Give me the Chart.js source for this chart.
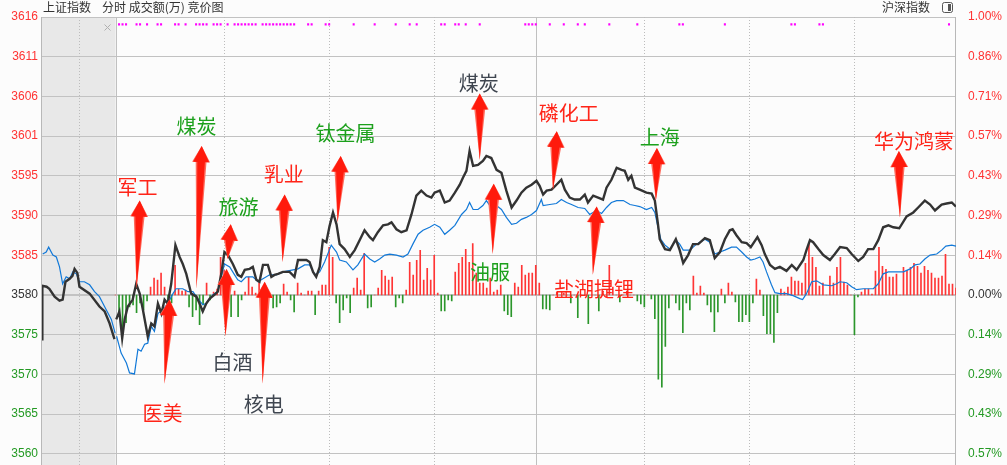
<!DOCTYPE html>
<html lang="zh-CN">
<head>
<meta charset="utf-8">
<title>上证指数 分时</title>
<script src="https://cdn.jsdelivr.net/npm/chart.js@4.4.1/dist/chart.umd.min.js"></script>
<style>
  html, body { margin: 0; padding: 0; background: #fcfcfc; overflow: hidden; }
  #box { width: 1007px; height: 465px; }
</style>
</head>
<body>
<div id="box"><canvas id="fs" width="1007" height="465"></canvas></div>
<script>
    // 昨收 & 纵轴刻度 (每格 1/7 %)
    const preClose = 3580.6;
    const gridSteps = [-4, -3, -2, -1, 0, 1, 2, 3, 4, 5, 6, 7];
    const priceLabels = ['3560', '3565', '3570', '3575', '3580', '3585', '3590', '3595', '3601', '3606', '3611', '3616'];
    const pctLabels = ['0.57%', '0.43%', '0.29%', '0.14%', '0.00%', '0.14%', '0.29%', '0.43%', '0.57%', '0.71%', '0.86%', '1.00%'];

    // 时间轴: 竞价 -21..0, 交易 0..240 分钟
    const timeLines = [-10.5, 0, 31, 61, 91, 120, 151, 181, 211];
    const solidTimeLines = [0, 120];

    // 竞价段 [分钟, 点位]
    const auctionIndex = [[-21, 3574.90], [-20.9, 3581.79], [-19.7, 3581.66], [-18.9, 3581.40], [-17.4, 3580.38], [-16, 3579.87],
        [-15.1, 3580.00], [-14.3, 3582.30], [-13.1, 3582.68], [-12.3, 3583.06], [-11.7, 3583.96], [-10.9, 3583.45], [-10.3, 3581.66],
        [-7.4, 3580.77], [-4.6, 3579.11], [-3.1, 3578.47], [-1.7, 3576.94], [-0.3, 3574.90]];
    const auctionBlue = [[-20.8, 3585.87], [-19.8, 3586.13], [-19.1, 3586.76], [-17.9, 3585.74], [-16.9, 3585.49], [-16, 3584.21],
        [-15.1, 3582.04], [-14.1, 3582.94], [-13.1, 3582.68], [-12.2, 3583.57], [-11.2, 3583.32], [-10.3, 3582.30], [-8.9, 3582.30],
        [-7.4, 3581.91], [-6, 3581.02], [-4.6, 3580.38], [-2.7, 3578.72], [-1.2, 3577.45], [-0.1, 3575.66]];

    // 上证指数 分时 [分钟, 点位]
    const indexLine = [
        [0.2, 3577.45], [1.1, 3578.47], [1.9, 3575.02], [2.6, 3577.45], [3.5, 3579.11], [4.9, 3580.00], [5.9, 3582.04], [6.9, 3580.77], [7.8, 3578.72], [9.2, 3575.28],
        [10.2, 3576.94], [11.1, 3576.56], [12.1, 3579.49], [13.1, 3578.21], [14.0, 3580.00], [14.9, 3579.49], [15.9, 3582.04], [17.1, 3587.02], [18.3, 3585.49], [19.2, 3584.59],
        [20.2, 3583.32], [21.6, 3580.77], [23.1, 3580.38], [24.0, 3579.49], [24.9, 3578.47], [25.9, 3579.49], [26.9, 3580.13], [28.3, 3580.64], [29.2, 3581.02], [30.2, 3583.32],
        [31.1, 3586.13], [32.1, 3585.74], [33.5, 3584.59], [34.9, 3583.19], [35.9, 3582.94], [36.9, 3583.83], [38.3, 3583.96], [39.2, 3584.21], [40.2, 3582.55], [41.1, 3582.30],
        [42.1, 3584.47], [43.5, 3584.47], [44.5, 3582.94], [45.4, 3583.19], [46.4, 3583.32], [47.8, 3583.57], [49.7, 3583.57], [51.1, 3582.94], [52.1, 3585.10], [54.5, 3585.10],
        [55.4, 3584.85], [56.4, 3583.57], [57.3, 3582.94], [58.3, 3584.21], [59.2, 3587.66], [60.2, 3587.40], [61.1, 3589.44], [62.1, 3591.23], [63.1, 3589.70], [64.0, 3587.15],
        [65.4, 3586.51], [66.9, 3585.49], [68.3, 3586.38], [69.7, 3587.66], [71.1, 3588.93], [72.6, 3588.04], [73.5, 3587.66], [74.9, 3588.68], [76.4, 3589.57], [77.8, 3589.70],
        [78.8, 3589.95], [80.2, 3589.06], [81.6, 3588.68], [83.1, 3588.93], [84.5, 3590.97], [85.9, 3593.40], [87.3, 3594.04], [88.8, 3593.40], [90.2, 3593.14], [91.1, 3593.78],
        [92.6, 3594.04], [94.0, 3592.51], [95.4, 3592.76], [96.9, 3593.78], [98.3, 3594.80], [99.2, 3595.70], [100.2, 3596.59], [101.1, 3599.14], [102.1, 3597.23], [103.5, 3597.36],
        [104.9, 3597.86], [105.9, 3598.50], [107.3, 3598.24], [108.8, 3596.72], [110.2, 3596.33], [111.6, 3594.04], [113.1, 3591.87], [114.5, 3592.76], [115.9, 3593.78], [117.3, 3594.42],
        [118.8, 3594.80], [120.2, 3595.31], [121.1, 3594.67], [122.1, 3593.53], [123.1, 3594.04], [124.5, 3594.16], [125.9, 3594.80], [127.3, 3595.44], [128.3, 3594.16], [129.7, 3593.14],
        [131.1, 3592.89], [132.6, 3592.89], [134.0, 3593.53], [134.9, 3592.51], [136.4, 3593.40], [137.8, 3593.14], [139.2, 3592.89], [140.2, 3594.42], [141.6, 3595.44], [143.1, 3596.97],
        [144.5, 3596.72], [145.4, 3596.59], [146.4, 3595.44], [147.3, 3595.95], [148.3, 3594.42], [149.7, 3594.16], [151.6, 3593.78], [153.1, 3593.65], [154.0, 3592.76], [154.9, 3589.70],
        [155.4, 3587.78], [156.9, 3586.51], [158.3, 3586.38], [160.0, 3587.78], [161.1, 3586.38], [162.1, 3584.72], [163.5, 3585.74], [164.9, 3587.15], [166.4, 3587.15], [168.3, 3587.91],
        [169.7, 3587.66], [171.1, 3585.36], [172.6, 3586.13], [174.0, 3587.78], [175.4, 3588.93], [176.2, 3589.06], [177.3, 3588.29], [178.8, 3587.40], [180.2, 3587.27], [181.4, 3586.76],
        [183.3, 3588.04], [184.5, 3587.02], [185.4, 3585.87], [186.9, 3584.47], [188.3, 3583.96], [189.7, 3584.21], [191.6, 3583.70], [193.1, 3584.47], [194.5, 3583.83], [196.4, 3585.10],
        [197.3, 3586.38], [198.3, 3587.66], [199.2, 3587.40], [200.7, 3586.51], [202.1, 3585.74], [204.0, 3585.10], [205.4, 3585.87], [206.9, 3586.76], [208.8, 3586.64], [210.2, 3585.87],
        [212.1, 3584.98], [213.5, 3585.49], [214.9, 3586.51], [216.4, 3586.51], [217.8, 3587.66], [219.2, 3589.32], [220.7, 3589.57], [222.1, 3589.32], [223.8, 3589.19], [225.9, 3590.72],
        [227.8, 3591.23], [229.2, 3591.87], [231.1, 3592.76], [232.6, 3592.25], [234.0, 3591.48], [235.9, 3592.25], [237.3, 3592.38], [238.8, 3592.51], [240.0, 3591.99]];

    // 领先线 (蓝) [分钟, 点位]
    const blueLine = [
        [0.3, 3575.28], [1.6, 3573.11], [3.1, 3571.83], [4.0, 3570.56], [5.4, 3570.43], [6.4, 3573.62], [7.3, 3573.36], [8.3, 3574.26], [9.2, 3574.39], [10.2, 3576.56],
        [11.1, 3575.92], [12.1, 3578.21], [13.5, 3578.72], [14.9, 3579.49], [16.4, 3580.77], [17.3, 3581.40], [19.2, 3581.40], [20.7, 3581.02], [22.1, 3581.02], [23.5, 3580.13],
        [24.9, 3579.36], [25.9, 3579.49], [27.8, 3580.64], [29.2, 3581.02], [30.2, 3582.94], [31.1, 3584.59], [32.6, 3584.21], [34.0, 3583.19], [34.9, 3582.55], [35.9, 3582.30],
        [37.3, 3582.94], [39.2, 3582.94], [40.7, 3582.30], [42.1, 3582.68], [44.0, 3583.19], [45.9, 3583.19], [47.8, 3583.57], [50.7, 3583.83], [52.1, 3583.96], [54.0, 3584.47],
        [55.4, 3584.47], [56.9, 3583.19], [58.3, 3583.57], [59.7, 3584.85], [61.6, 3587.02], [63.1, 3586.13], [64.0, 3585.10], [65.9, 3584.85], [67.8, 3583.83], [69.2, 3584.47],
        [71.1, 3585.87], [72.6, 3585.23], [74.0, 3584.85], [75.4, 3585.23], [76.9, 3585.74], [78.3, 3585.87], [80.2, 3585.74], [82.1, 3585.49], [83.5, 3585.87], [84.9, 3587.15],
        [86.4, 3588.42], [87.8, 3588.93], [89.7, 3589.32], [91.1, 3589.70], [92.6, 3589.32], [94.0, 3588.42], [95.4, 3588.93], [96.9, 3589.57], [98.8, 3590.97], [100.2, 3591.61],
        [101.1, 3592.51], [102.1, 3591.61], [103.5, 3591.61], [104.9, 3592.12], [105.9, 3592.76], [106.9, 3592.12], [108.8, 3592.12], [110.2, 3591.61], [111.6, 3590.59], [113.1, 3589.70],
        [114.5, 3589.83], [115.9, 3590.34], [117.3, 3590.59], [118.8, 3590.97], [120.2, 3591.48], [121.6, 3592.89], [122.1, 3592.12], [124.0, 3592.25], [125.9, 3592.38], [127.3, 3592.89],
        [128.8, 3592.51], [130.2, 3592.25], [132.1, 3591.87], [134.0, 3591.74], [135.4, 3590.97], [137.3, 3591.48], [138.8, 3591.10], [140.2, 3591.87], [141.6, 3592.51], [143.1, 3592.76],
        [145.0, 3592.76], [146.9, 3592.25], [148.3, 3592.12], [149.7, 3591.99], [151.6, 3591.61], [153.1, 3591.87], [154.0, 3591.23], [154.9, 3589.32], [155.7, 3587.78], [156.9, 3587.02],
        [158.3, 3586.51], [160.0, 3587.66], [161.1, 3587.15], [162.1, 3586.38], [164.0, 3586.38], [165.9, 3587.15], [168.3, 3587.78], [169.7, 3587.40], [171.1, 3585.87], [172.6, 3586.13],
        [174.0, 3586.38], [175.9, 3586.76], [177.3, 3586.76], [178.8, 3586.13], [180.2, 3585.49], [181.4, 3585.10], [182.6, 3585.23], [184.0, 3585.49], [184.9, 3584.85], [185.9, 3583.57],
        [187.3, 3581.91], [188.3, 3580.89], [189.7, 3580.77], [191.6, 3580.77], [193.5, 3580.51], [195.4, 3580.13], [196.2, 3580.00], [197.3, 3580.77], [198.8, 3582.30], [200.2, 3582.42],
        [202.1, 3581.91], [204.5, 3581.79], [205.9, 3582.04], [206.9, 3582.30], [208.8, 3582.17], [210.2, 3581.66], [211.6, 3581.28], [213.5, 3581.40], [216.4, 3581.40], [217.8, 3582.04],
        [219.2, 3583.32], [220.7, 3583.57], [225.0, 3583.57], [226.9, 3583.96], [228.3, 3584.47], [229.7, 3584.59], [231.1, 3585.23], [232.6, 3585.74], [234.5, 3585.87], [235.9, 3586.38],
        [237.1, 3586.89], [238.8, 3587.02], [240.0, 3586.89]];

    // 每分钟 红绿柱 (分钟 0..240)
    const barValues = [
        0, -22, -35, -28, -12, -10, -18, -8, -15, -6,
        8, 17, 15, 22, 8, -10, -8, 30, 6, 4,
        5, -12, -22, -15, -30, -10, 12, -5, 3, 6,
        38, 25, -12, -22, 4, -22, -5, 3, 18, 8,
        2, 13, -15, -8, 2, -13, -12, -8, 11, 3,
        -5, -17, 12, 2, 0, 4, 4, -20, 4, 10,
        10, 48, 38, -8, -28, -15, -3, -18, 7, 17,
        5, 42, -13, -12, 0, 7, 25, 19, 15, 18,
        -12, -3, -8, 5, 33, 20, 35, 45, 15, 27,
        15, 40, 2, -16, -16, -5, -6, 23, 32, 38,
        46, 33, 52, 22, 12, 12, 7, 17, 3, 5,
        10, -16, -20, -22, 12, 8, 30, 20, 22, 22,
        30, 12, -14, -14, -15, 0, 3, 0, 2, 0,
        -8, 0, -23, 0, 0, -29, 0, 0, -16, 5,
        0, 30, 8, 0, -7, 0, 4, 0, 0, -6,
        -9, -12, 0, -4, -24, -85, -93, -52, -13, 0,
        -8, -15, -38, -8, -15, 19, 2, 9, 2, -10,
        -17, -37, -17, 6, -8, 12, 3, -7, -27, -27,
        -20, -27, -8, 16, 5, -21, -39, -39, -48, -18,
        6, 3, 8, 18, 14, 14, 12, 32, 52, 38,
        28, 9, 12, 0, 19, 12, 28, 38, 13, 10,
        0, -40, -2, 3, 6, 6, 1, 24, 48, 29,
        26, 18, 18, 21, 0, 28, 25, 28, 32, 29,
        22, 29, 25, 22, 17, 17, 19, 41, 11, 11,
        7];

    // 顶部信号点 (分钟)
    const signalMinutes = [1, 2, 3, 6, 7, 9, 12, 13, 17, 18, 20, 23, 24, 25, 26, 28, 29, 30, 32, 34, 35, 36, 37, 38, 39, 40,
        42, 43, 44, 45, 46, 47, 48, 49, 50, 51, 55, 56, 60, 61, 68, 74, 80, 84, 86, 93, 94, 97, 98, 100, 104,
        117, 118, 119, 120, 124, 128, 132, 134, 141, 149, 161, 162, 174, 193, 194, 201, 202, 238];

    // 板块标注: 箭头尖 / 箭尾 / 文字 (分钟, 点位)
    const notes = [
        { text: '军工', tone: 'red', tip: [6.9, 3592.76], tail: [6.0, 3581.40], at: [6.3, 3594.42] },
        { text: '煤炭', tone: 'green', tip: [24.6, 3599.78], tail: [23.1, 3581.40], at: [23.1, 3602.33] },
        { text: '旅游', tone: 'green', tip: [32.9, 3589.70], tail: [32.0, 3585.23], at: [35.1, 3591.87] },
        { text: '乳业', tone: 'red', tip: [48.3, 3593.53], tail: [47.7, 3584.85], at: [48.0, 3596.08] },
        { text: '钛金属', tone: 'green', tip: [64.3, 3598.50], tail: [63.4, 3589.95], at: [65.7, 3601.44] },
        { text: '煤炭', tone: 'gray', tip: [104.0, 3606.54], tail: [104.0, 3597.99], at: [103.7, 3607.82] },
        { text: '磷化工', tone: 'red', tip: [126.0, 3601.69], tail: [124.9, 3594.16], at: [129.4, 3603.99] },
        { text: '上海', tone: 'green', tip: [154.6, 3599.52], tail: [154.3, 3592.76], at: [155.4, 3600.93] },
        { text: '华为鸿蒙', tone: 'red', tip: [223.7, 3599.14], tail: [224.0, 3590.59], at: [228.0, 3600.42] },
        { text: '医美', tone: 'red', tip: [15.4, 3580.00], tail: [14.0, 3569.15], at: [13.4, 3565.33] },
        { text: '白酒', tone: 'gray', tip: [31.7, 3583.96], tail: [31.4, 3575.28], at: [33.4, 3571.90] },
        { text: '核电', tone: 'gray', tip: [42.6, 3582.30], tail: [42.0, 3569.15], at: [42.3, 3566.47] },
        { text: '油服', tone: 'green', tip: [108.0, 3594.93], tail: [107.7, 3585.87], at: [106.9, 3583.57] },
        { text: '盐湖提锂', tone: 'red', tip: [137.4, 3591.99], tail: [136.3, 3583.19], at: [136.6, 3581.28] }
    ];

    const tickValues = gridSteps.map(k => preClose * (1 + k / 700));
    const yMin = tickValues[0];
    const yMax = tickValues[tickValues.length - 1];
    const toneColor = { red: '#ff2418', green: '#1ca01c', gray: '#3f4650' };
    const cjk = '"Noto Sans CJK SC", "Noto Sans", sans-serif';

    function tickColor(ctx) {
        const k = gridSteps[ctx.index];
        if (k > 0) return '#ff3333';
        if (k < 0) return '#249a24';
        return '#333333';
    }

    function xy(pairs) {
        return pairs.map(p => ({ x: p[0], y: p[1] }));
    }

    // 箭头: 三角头 + 渐细箭杆, 边缘浅一点
    function drawArrow(ctx, x1, y1, x2, y2) {
        const len = Math.hypot(x2 - x1, y2 - y1);
        const ux = (x2 - x1) / len, uy = (y2 - y1) / len;
        const px = -uy, py = ux;
        const headLen = 16, headW = 9, shaftW = 5.4;
        const bx = x1 + ux * headLen, by = y1 + uy * headLen;
        const outline = (hw, sw) => {
            ctx.beginPath();
            ctx.moveTo(x1, y1);
            ctx.lineTo(bx + px * hw, by + py * hw);
            ctx.lineTo(bx + px * sw, by + py * sw);
            ctx.lineTo(x2, y2);
            ctx.lineTo(bx - px * sw, by - py * sw);
            ctx.lineTo(bx - px * hw, by - py * hw);
            ctx.closePath();
            ctx.fill();
        };
        ctx.fillStyle = '#ff6a5c';
        outline(headW, shaftW);
        ctx.fillStyle = '#ff1a0c';
        outline(headW - 1, shaftW - 1.6);
    }

    const paintPlugin = {
        id: 'paint',
        beforeDraw(chart) {
            const { ctx, chartArea: a, scales: { x } } = chart;
            ctx.save();
            ctx.fillStyle = '#fcfcfc';
            ctx.fillRect(0, 0, chart.width, chart.height);
            // 竞价区灰底
            ctx.fillStyle = '#e8e8e8';
            const x0 = x.getPixelForValue(x.min), x1 = x.getPixelForValue(0);
            ctx.fillRect(x0, a.top, x1 - x0, chart.height - a.top);
            ctx.restore();
        },
        beforeDatasetsDraw(chart) {
            const { ctx, chartArea: a, scales: { x } } = chart;
            ctx.save();
            ctx.lineWidth = 1;
            timeLines.forEach(m => {
                const px = Math.round(x.getPixelForValue(m)) + 0.5;
                const solid = solidTimeLines.includes(m);
                ctx.strokeStyle = solid ? '#c0c0c0' : '#bcbcbc';
                ctx.setLineDash(solid ? [] : [1, 2]);
                ctx.beginPath();
                ctx.moveTo(px, a.top);
                ctx.lineTo(px, chart.height);
                ctx.stroke();
            });
            ctx.setLineDash([]);
            ctx.strokeStyle = '#b8b8b8';
            [a.left, a.right].forEach(edge => {
                const px = Math.round(edge) - 0.5;
                ctx.beginPath();
                ctx.moveTo(px, a.top);
                ctx.lineTo(px, chart.height);
                ctx.stroke();
            });
            ctx.restore();
        },
        afterDatasetsDraw(chart) {
            const { ctx, scales: { x, y } } = chart;
            ctx.save();
            notes.forEach(n => {
                drawArrow(ctx, x.getPixelForValue(n.tip[0]), y.getPixelForValue(n.tip[1]),
                    x.getPixelForValue(n.tail[0]), y.getPixelForValue(n.tail[1]));
            });
            ctx.font = '20px ' + cjk;
            ctx.textAlign = 'center';
            ctx.textBaseline = 'middle';
            notes.forEach(n => {
                ctx.fillStyle = toneColor[n.tone];
                ctx.fillText(n.text, x.getPixelForValue(n.at[0]), y.getPixelForValue(n.at[1]));
            });
            ctx.restore();
        },
        afterDraw(chart) {
            const { ctx } = chart;
            ctx.save();
            ctx.font = '12px ' + cjk;
            ctx.fillStyle = '#333';
            ctx.textBaseline = 'middle';
            ctx.fillText('上证指数', 43, 7);
            ctx.fillText('分时 成交额(万) 竞价图', 102, 7);
            ctx.fillText('沪深指数', 882, 7);
            // 右上小图标
            ctx.strokeStyle = '#555';
            ctx.lineWidth = 1;
            ctx.beginPath();
            ctx.roundRect(942.5, 2.5, 10, 10, 2);
            ctx.stroke();
            ctx.fillStyle = '#555';
            ctx.fillRect(948, 4, 3, 7);
            // 竞价区关闭符号
            ctx.strokeStyle = '#b0b0b0';
            ctx.beginPath();
            ctx.moveTo(104.5, 24.5); ctx.lineTo(110.5, 30.5);
            ctx.moveTo(110.5, 24.5); ctx.lineTo(104.5, 30.5);
            ctx.stroke();
            ctx.restore();
        }
    };

    window.onload = function() {
        new Chart(document.getElementById('fs'), {
            type: 'line',
            data: {
                datasets: [
                    {
                        type: 'bar',
                        data: barValues.map((v, i) => ({ x: i, y: v })),
                        yAxisID: 'yb',
                        backgroundColor: ctx => (ctx.raw && ctx.raw.y < 0) ? '#2b962b' : '#ff3535',
                        barThickness: 1,
                        order: 5
                    },
                    { data: xy(auctionBlue), borderColor: '#1279d8', borderWidth: 1.2, pointRadius: 0, tension: 0, order: 4 },
                    { data: xy(blueLine), borderColor: '#1279d8', borderWidth: 1.2, pointRadius: 0, tension: 0, order: 4 },
                    { data: xy(auctionIndex), borderColor: '#333333', borderWidth: 2.4, pointRadius: 0, tension: 0, order: 3 },
                    { data: xy(indexLine), borderColor: '#333333', borderWidth: 2.4, pointRadius: 0, tension: 0, order: 3 },
                    {
                        data: signalMinutes.map(m => ({ x: m, y: yMax - 0.95 })),
                        showLine: false,
                        pointStyle: 'rect',
                        pointRadius: 1.45,
                        pointBorderWidth: 0,
                        pointBackgroundColor: '#ff00ff',
                        order: 2
                    }
                ]
            },
            options: {
                responsive: false,
                animation: false,
                events: [],
                layout: { padding: { left: 0, right: 0, top: 17, bottom: 7 } },
                plugins: { legend: { display: false }, tooltip: { enabled: false } },
                scales: {
                    x: { type: 'linear', min: -21, max: 240, offset: false, display: false },
                    y: {
                        position: 'left',
                        min: yMin,
                        max: yMax,
                        afterFit: s => { s.width = 42; },
                        afterBuildTicks: s => { s.ticks = tickValues.map(v => ({ value: v })); },
                        ticks: {
                            autoSkip: false,
                            padding: 4,
                            font: { family: '"Liberation Sans", Arial, sans-serif', size: 12 },
                            color: tickColor,
                            callback: (v, i) => priceLabels[i]
                        },
                        grid: {
                            color: '#c2c2c2',
                            lineWidth: ctx => gridSteps[ctx.index] === 0 ? 2 : 1,
                            drawTicks: false
                        },
                        border: { display: false }
                    },
                    y2: {
                        position: 'right',
                        min: yMin,
                        max: yMax,
                        afterFit: s => { s.width = 51; },
                        afterBuildTicks: s => { s.ticks = tickValues.map(v => ({ value: v })); },
                        ticks: {
                            autoSkip: false,
                            padding: 4,
                            font: { family: '"Liberation Sans", Arial, sans-serif', size: 12 },
                            color: tickColor,
                            callback: (v, i) => pctLabels[i]
                        },
                        grid: { display: false },
                        border: { display: false }
                    },
                    yb: { display: false, min: -160.4, max: 280.7 }
                }
            },
            plugins: [paintPlugin]
        });
    };
</script>
</body>
</html>
